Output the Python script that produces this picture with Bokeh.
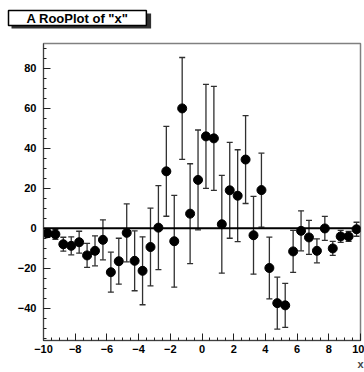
from bokeh.plotting import figure
from bokeh.models import (ColumnDataSource, Whisker, TeeHead, Span, Label,
                          SingleIntervalTicker, Range1d)
from bokeh.embed import file_html
from bokeh.resources import INLINE

# ---- data ----
bin_centers = [-9.75, -9.25, -8.75, -8.25, -7.75, -7.25, -6.75, -6.25, -5.75, -5.25,
               -4.75, -4.25, -3.75, -3.25, -2.75, -2.25, -1.75, -1.25, -0.75, -0.25,
               0.25, 0.75, 1.25, 1.75, 2.25, 2.75, 3.25, 3.75, 4.25, 4.75,
               5.25, 5.75, 6.25, 6.75, 7.25, 7.75, 8.25, 8.75, 9.25, 9.75]
values = [-2.5, -3.0, -8.0, -8.8, -7.0, -13.6, -11.3, -5.8, -22.0, -16.5,
          -2.3, -16.3, -21.3, -9.4, 0.3, 28.5, -6.5, 60.0, 7.3, 24.2,
          46.0, 45.0, 2.0, 19.0, 16.3, 34.4, -3.5, 19.1, -19.9, -37.5,
          -38.6, -11.6, -1.3, -4.6, -11.3, -0.1, -10.1, -4.1, -4.1, -0.5]
errors = [2.0, 2.5, 3.5, 4.5, 5.5, 6.0, 7.5, 10.0, 10.0, 11.5,
          14.5, 15.0, 17.0, 19.5, 21.0, 22.5, 23.0, 25.5, 25.0, 25.0,
          26.0, 26.0, 24.5, 24.0, 23.0, 22.0, 19.5, 18.5, 15.5, 13.0,
          11.0, 10.5, 10.0, 8.5, 6.0, 6.0, 3.5, 3.0, 2.5, 3.5]
curve_level = 0.0
title_text = 'A RooPlot of "x"'
x_label = "x"

src = ColumnDataSource(dict(
    x=bin_centers, y=values,
    upper=[v + e for v, e in zip(values, errors)],
    lower=[v - e for v, e in zip(values, errors)],
))

p = figure(width=364, height=372, output_backend="svg", toolbar_location=None,
           title=None, x_range=Range1d(-10, 10), y_range=Range1d(-56.2, 92.5),
           min_border_left=43, min_border_right=4, min_border_top=43,
           min_border_bottom=30)
p.background_fill_color = "white"
p.border_fill_color = "white"
p.xgrid.visible = False
p.ygrid.visible = False
p.outline_line_color = "#808080"
p.outline_line_width = 1.5

xax = p.xaxis[0]
yax = p.yaxis[0]
xax.ticker = SingleIntervalTicker(interval=2, num_minor_ticks=4)
yax.ticker = SingleIntervalTicker(interval=20, num_minor_ticks=4)
for ax in (xax, yax):
    ax.major_tick_in = 7
    ax.major_tick_out = 0
    ax.minor_tick_in = 3
    ax.minor_tick_out = 0
    ax.axis_line_color = "#404040"
    ax.major_tick_line_color = "#202020"
    ax.minor_tick_line_color = "#202020"
    ax.major_label_text_font = "Liberation Sans"
    ax.major_label_text_font_style = "bold"
    ax.major_label_text_font_size = "11px"
    ax.major_label_text_color = "black"
yax.major_label_standoff = 7
xax.major_label_standoff = 4
xax.axis_label = x_label
xax.axis_label_align = "end"
xax.axis_label_standoff = 2
xax.axis_label_text_font = "Liberation Sans"
xax.axis_label_text_font_style = "bold"
xax.axis_label_text_font_size = "11px"

p.add_layout(Span(location=curve_level, dimension="width",
                  line_color="black", line_width=2))

p.add_layout(Whisker(source=src, base="x", upper="upper", lower="lower",
                     dimension="height", line_color="#303030", line_width=1.3,
                     upper_head=TeeHead(size=6, line_color="#303030", line_width=1.3),
                     lower_head=TeeHead(size=6, line_color="#303030", line_width=1.3)))
p.scatter("x", "y", source=src, marker="circle", size=9,
          fill_color="black", line_color="black")

# title box with shadow, placed in the panel above the frame
p.add_layout(Label(x=-32, y=30, x_units="screen", y_units="screen",
                   text=" ", anchor="top_left", padding=(68, 0),
                   background_fill_color="#303030", background_fill_alpha=1.0,
                   text_font="Liberation Sans", text_font_size="13px"), "above")
p.add_layout(Label(x=-35, y=18, x_units="screen", y_units="screen",
                   text=title_text, anchor="top_left", padding=(18, 0),
                   text_font="Liberation Sans", text_font_style="bold",
                   text_font_size="13px", text_color="black",
                   background_fill_color="white", background_fill_alpha=1.0,
                   border_line_color="black", border_line_width=1.5), "above")

open("out.html", "w").write(file_html(p, INLINE))
